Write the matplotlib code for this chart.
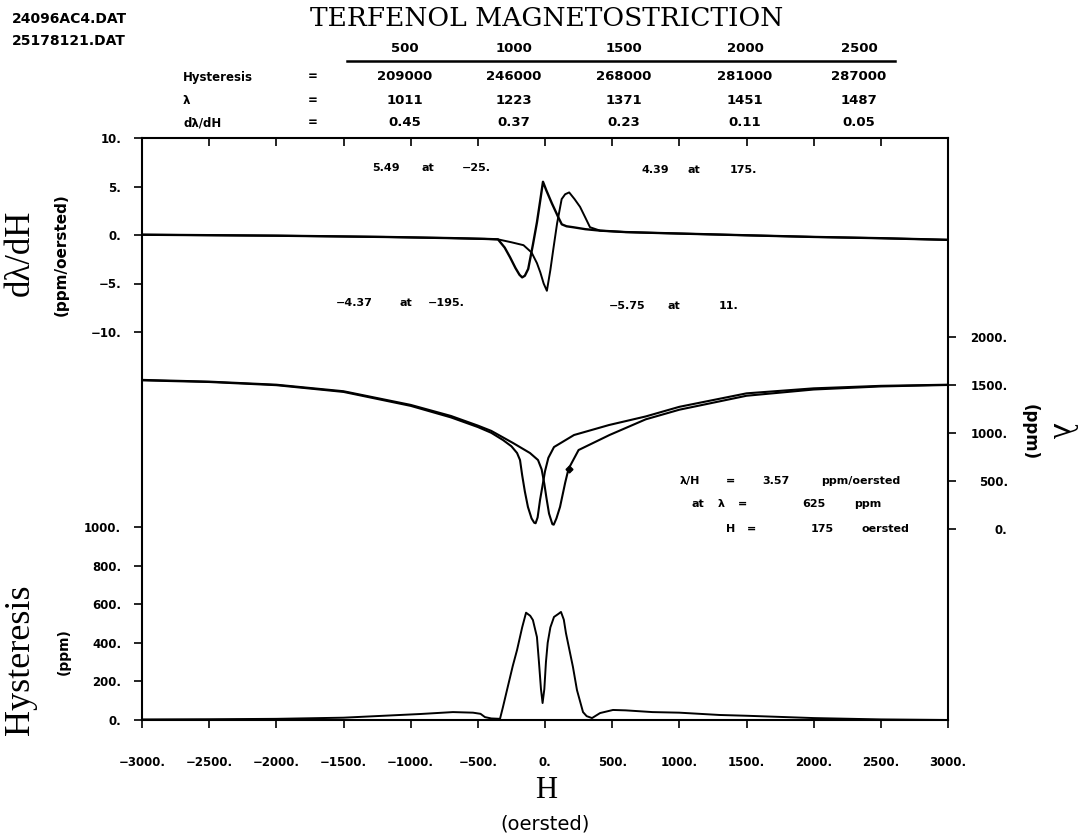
import matplotlib.pyplot as plt
from matplotlib.lines import Line2D
from matplotlib.ticker import FuncFormatter

plt.rcParams['font.family'] = 'DejaVu Sans'
plt.rcParams['font.weight'] = 'bold'

# table at the top
fields = [500, 1000, 1500, 2000, 2500]
hyst_area = [209000, 246000, 268000, 281000, 287000]
lam_at = [1011, 1223, 1371, 1451, 1487]
slope_at = [0.45, 0.37, 0.23, 0.11, 0.05]

# d lambda / dH, the two sweeps (ppm/oersted)
h_d1 = [-3000, -2000, -1200, -700, -450, -350, -300, -260, -220, -190, -170, -150, -125, -90, -60, -35,
        -15, 10, 50, 100, 125, 160, 210, 300, 410, 600, 860, 1000, 1500, 2000, 2500, 3000]
d1 = [0.03, -0.07, -0.2, -0.32, -0.4, -0.45, -1.3, -2.3, -3.4, -4.1, -4.37, -4.2, -3.5, -1.0, 1.3, 3.6,
      5.49, 4.6, 3.3, 1.8, 1.1, 0.9, 0.8, 0.6, 0.45, 0.3, 0.2, 0.15, -0.03, -0.2, -0.33, -0.5]
h_d2 = [-3000, -2000, -1200, -700, -450, -350, -250, -160, -100, -60, -35, -10, 14, 40, 62, 90,
        124, 150, 180, 220, 261, 300, 335, 410, 600, 860, 1000, 1500, 2000, 2500, 3000]
d2 = [0.03, -0.07, -0.2, -0.32, -0.4, -0.45, -0.75, -1.05, -1.8, -2.9, -3.85, -5.0, -5.75, -3.6, -1.45, 1.2,
      3.7, 4.2, 4.39, 3.7, 2.9, 1.8, 0.8, 0.45, 0.3, 0.2, 0.15, -0.03, -0.2, -0.33, -0.5]

# lambda (ppm), butterfly loop
h_l1 = [-3000, -2500, -2000, -1500, -1000, -700, -500, -400, -238, -112, -52, -25, -5, 10, 30, 55,
        65, 85, 112, 150, 175, 250, 480, 750, 1000, 1500, 2000, 2500, 3000]
l1 = [1550, 1532, 1500, 1432, 1290, 1175, 1075, 1020, 894, 790, 717, 620, 470, 330, 160, 50,
      45, 110, 230, 480, 625, 821, 977, 1140, 1240, 1385, 1450, 1482, 1497]
h_l2 = [-3000, -2500, -2000, -1500, -1000, -700, -500, -400, -313, -250, -208, -186, -170, -150, -127, -100,
        -80, -70, -55, -37, -15, 0, 25, 67, 216, 477, 750, 1000, 1500, 2000, 2500, 3000]
l2 = [1545, 1528, 1495, 1425, 1280, 1160, 1060, 1000, 925, 860, 790, 717, 560, 390, 229, 110,
      65, 60, 120, 301, 478, 600, 740, 852, 977, 1081, 1170, 1270, 1410, 1462, 1488, 1500]
mark_h = 175
mark_lam = 625

# hysteresis (ppm)
h_hy = [-3000, -2500, -2000, -1500, -1200, -930, -685, -536, -480, -447, -400, -335, -313, -283, -240, -208,
        -170, -141, -110, -90, -60, -45, -30, -18, -5, 7, 20, 40, 67, 100, 119, 140,
        156, 208, 238, 283, 310, 350, 410, 506, 600, 800, 1000, 1300, 1500, 2000, 2500, 3000]
hy = [3, 4, 6, 12, 22, 31, 41, 38, 32, 15, 8, 6, 67, 155, 280, 363,
      480, 556, 540, 518, 430, 300, 160, 88, 160, 300, 400, 480, 534, 550, 560, 520,
      450, 275, 155, 41, 20, 10, 36, 52, 50, 41, 38, 26, 22, 10, 3, 0]

W, HT = 1081, 834
fig = plt.figure(figsize=(W / 100, HT / 100), dpi=100)


def fx(x):
    return x / W


def fy(y):
    return 1 - y / HT


def put(x, y, s, size=8, ha='left', **kw):
    fig.text(fx(x), fy(y), s, fontsize=size, ha=ha, va='center', **kw)


def dotted(v, pos):
    return f"{v:g}.".replace('-', '\u2212')


rect = [fx(142), fy(720), fx(948) - fx(142), fy(138) - fy(720)]
ax = fig.add_axes(rect)
ax_d = fig.add_axes(rect, sharex=ax)
ax_l = fig.add_axes(rect, sharex=ax)

ax.plot(h_hy, hy, color='k', lw=1.4)
ax_d.plot(h_d1, d1, color='k', lw=1.7)
ax_d.plot(h_d2, d2, color='k', lw=1.4)
ax_l.plot(h_l1, l1, color='k', lw=1.5)
ax_l.plot(h_l2, l2, color='k', lw=1.5)
ax_l.plot([mark_h], [mark_lam], 'kD', ms=3.5)

ax.set_xlim(-3000, 3000)
ax.set_xticks(range(-3000, 3001, 500))
ax.xaxis.set_major_formatter(FuncFormatter(dotted))
ax.set_ylim(0, 3016)
ax.set_yticks(range(0, 1001, 200))
ax.yaxis.set_major_formatter(FuncFormatter(dotted))
for s in ax.spines.values():
    s.set_linewidth(1.5)
ax.tick_params(axis='x', direction='out', length=6, width=1.2, pad=20, labelsize=8.5, top=False)
ax.tick_params(axis='y', direction='out', length=6, width=1.2, pad=9, labelsize=8.5)

ax_d.set_ylim(-50, 10)
ax_d.set_yticks([-10, -5, 0, 5, 10])
ax_d.yaxis.set_major_formatter(FuncFormatter(dotted))
ax_d.patch.set_visible(False)
for s in ax_d.spines.values():
    s.set_visible(False)
ax_d.tick_params(axis='x', top=True, bottom=False, labeltop=False, labelbottom=False,
                 direction='in', length=6, width=1.2)
ax_d.tick_params(axis='y', direction='out', length=6, width=1.2, pad=9, labelsize=8.5)

ax_l.set_ylim(-1985, 4064)
ax_l.set_yticks(range(0, 2001, 500))
ax_l.yaxis.set_major_formatter(FuncFormatter(dotted))
ax_l.patch.set_visible(False)
for s in ax_l.spines.values():
    s.set_visible(False)
ax_l.yaxis.tick_right()
ax_l.tick_params(axis='y', right=True, left=False, labelright=True, labelleft=False,
                 direction='out', length=6, width=1.2, pad=37, labelsize=8.5)
ax_l.tick_params(axis='x', bottom=False, top=False, labelbottom=False, labeltop=False)
plt.setp(ax_l.get_yticklabels(), ha='right')

# axis titles
fig.text(fx(20), fy(253), 'd\u03bb/dH', rotation=90, family='Liberation Serif', weight='normal',
         size=25, ha='center', va='center')
fig.text(fx(61), fy(255), '(ppm/oersted)', rotation=90, size=11, ha='center', va='center')
fig.text(fx(21), fy(660), 'Hysteresis', rotation=90, family='Liberation Serif', weight='normal',
         size=26, ha='center', va='center')
fig.text(fx(64), fy(652), '(ppm)', rotation=90, size=10, ha='center', va='center')
fig.text(fx(1060), fy(430), '\u03bb', rotation=-90, family='Liberation Serif', weight='normal',
         size=24, ha='center', va='center')
fig.text(fx(1030), fy(432), '(ppm)', rotation=-90, size=12, ha='center', va='center')
fig.text(fx(546), fy(790), 'H', family='Liberation Serif', weight='normal', size=22,
         ha='center', va='center')
fig.text(fx(545), fy(830), '(oersted)', size=14, weight='normal', ha='center', va='baseline')

# header
put(12, 19, '24096AC4.DAT', 10)
put(12, 41, '25178121.DAT', 10)
fig.text(fx(547), fy(18), 'TERFENOL MAGNETOSTRICTION', family='DejaVu Serif', weight='normal',
         size=19, ha='center', va='center')
col_x = [405, 514, 624, 745, 859]
for x, f in zip(col_x, fields):
    put(x, 48, str(f), 9.5, ha='center')
fig.add_artist(Line2D([fx(347), fx(895)], [fy(61), fy(61)], lw=1.8, color='k'))
rows = [('Hysteresis', 77, [str(v) for v in hyst_area]),
        ('\u03bb', 101, [str(v) for v in lam_at]),
        ('d\u03bb/dH', 123, [f"{v:.2f}" for v in slope_at])]
for label, y, vals in rows:
    put(183, y, label, 8.5)
    put(313, y, '=', 8.5, ha='center')
    for x, v in zip(col_x, vals):
        put(x, y, v, 9.5, ha='center')

# peak notes
put(372, 168, '5.49')
put(422, 168, 'at')
put(462, 168, '\u221225.')
put(642, 170, '4.39')
put(688, 170, 'at')
put(730, 170, '175.')
put(336, 303, '\u22124.37')
put(400, 303, 'at')
put(428, 303, '\u2212195.')
put(609, 306, '\u22125.75')
put(668, 306, 'at')
put(719, 306, '11.')

put(680, 481, '\u03bb/H')
put(726, 481, '=')
put(762, 481, '3.57')
put(821, 481, 'ppm/oersted')
put(692, 504, 'at')
put(718, 504, '\u03bb')
put(738, 504, '=')
put(802, 504, str(mark_lam))
put(854, 504, 'ppm')
put(726, 529, 'H')
put(747, 529, '=')
put(811, 529, str(mark_h))
put(861, 529, 'oersted')

fig.savefig('out.png', dpi=100)
